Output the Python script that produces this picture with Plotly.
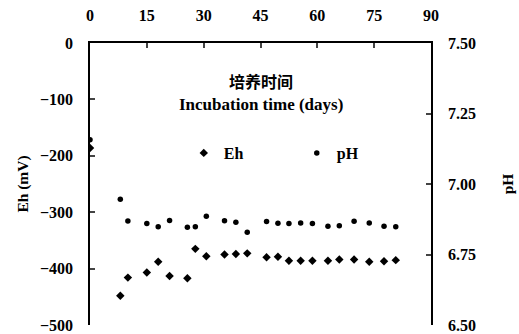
import plotly.graph_objects as go

days = [0, 8, 10, 15, 18, 21, 25.7, 27.8, 30.7, 35.5, 38.5, 41.5, 46.6, 49.6,
        52.5, 55.6, 58.7, 62.8, 65.8, 69.7, 73.7, 77.6, 80.7]
eh_mv = [-186, -448, -416, -407, -388, -413, -417, -365, -378, -375, -374, -373,
         -380, -379, -386, -386, -386, -386, -384, -384, -388, -387, -385]
ph = [7.157, 6.946, 6.869, 6.860, 6.848, 6.871, 6.847, 6.848, 6.886, 6.870, 6.864,
      6.829, 6.867, 6.861, 6.860, 6.862, 6.860, 6.850, 6.852, 6.868, 6.862, 6.850, 6.848]

x_ticks = [0, 15, 30, 45, 60, 75, 90]
eh_ticks = [0, -100, -200, -300, -400, -500]
ph_ticks = [6.50, 6.75, 7.00, 7.25, 7.50]
ph_tick_text = ["6.50", "6.75", "7.00", "7.25", "7.50"]

FONT = "Liberation Serif"

fig = go.Figure()
fig.add_trace(go.Scatter(x=days, y=eh_mv, mode="markers", name="Eh",
                         marker=dict(symbol="diamond", size=6.5, color="black"),
                         yaxis="y"))
fig.add_trace(go.Scatter(x=days, y=ph, mode="markers", name="pH",
                         marker=dict(symbol="circle", size=5.5, color="black"),
                         yaxis="y2"))

axis_font = dict(family=FONT, size=16, color="black", weight="bold")
title_font = dict(family=FONT, size=15.5, color="black", weight="bold")

fig.update_layout(
    width=519, height=334,
    margin=dict(l=90, r=88, t=43, b=9, autoexpand=False),
    paper_bgcolor="white", plot_bgcolor="white",
    font=dict(family=FONT, color="black"),
    showlegend=True,
    legend=dict(orientation="h", x=0.275, y=0.61, xanchor="left", yanchor="middle",
                bgcolor="rgba(0,0,0,0)",
                font=dict(family=FONT, size=16, color="black", weight="bold"),
                itemwidth=30, entrywidth=68),
    xaxis=dict(range=[0, 90], side="top", tickvals=x_ticks, ticks="inside", ticklen=5,
               tickwidth=1.5, showline=True, linecolor="black", linewidth=1.5,
               showgrid=False, zeroline=False, tickfont=axis_font,
               ticklabelstandoff=14, automargin=False),
    yaxis=dict(range=[-500, 0], tickvals=eh_ticks, ticks="inside", ticklen=5,
               tickwidth=1.5, showline=True, linecolor="black", linewidth=1.5,
               showgrid=False, zeroline=False, tickfont=axis_font, ticklabelstandoff=12,
               automargin=False,
               title=dict(text="Eh (mV)", font=title_font, standoff=7)),
    yaxis2=dict(range=[6.5, 7.5], overlaying="y", side="right", tickvals=ph_ticks,
                ticktext=ph_tick_text, ticks="inside", ticklen=5, tickwidth=1.5,
                showline=True, linecolor="black", linewidth=1.5, showgrid=False,
                zeroline=False, tickfont=axis_font, ticklabelstandoff=12,
                automargin=False,
                title=dict(text="pH", font=title_font, standoff=27)),
    annotations=[
        dict(text="<b>培养时间</b>", x=0.5, y=0.865, xref="paper", yref="paper",
             xanchor="center", yanchor="middle", showarrow=False,
             font=dict(family="Noto Sans CJK SC", size=16, color="black")),
        dict(text="<b>Incubation time (days)</b>", x=0.5, y=0.783, xref="paper",
             yref="paper", xanchor="center", yanchor="middle", showarrow=False,
             font=dict(family=FONT, size=17, color="black")),
    ],
)

fig.write_html("out.html")
